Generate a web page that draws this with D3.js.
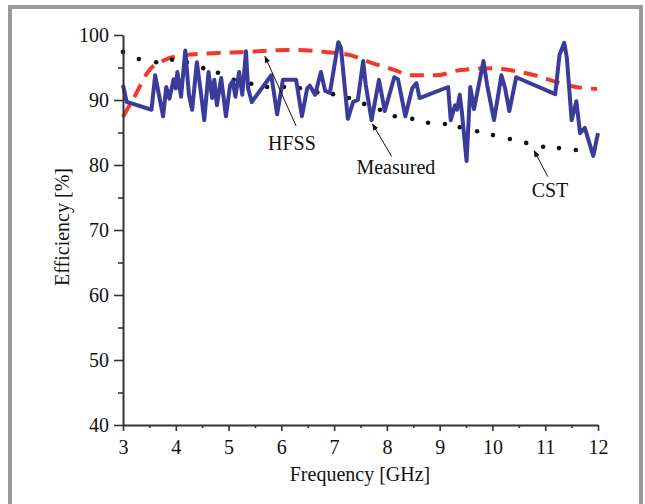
<!DOCTYPE html>
<html>
<head>
<meta charset="utf-8">
<script src="https://cdn.jsdelivr.net/npm/d3@7"></script>
<style>
  body { margin: 0; background: #fff; }
  svg { display: block; }
  text { font-family: "Liberation Serif", "Times New Roman", serif; fill: #111; }
</style>
</head>
<body>
<svg id="chart" width="645" height="504"></svg>
<script>
// Measured efficiency: frequency [GHz], efficiency [%]
var measFreq = [3.00, 3.07, 3.54, 3.61, 3.76, 3.82, 3.88, 3.96, 4.00, 4.03, 4.10, 4.18, 4.25, 4.31, 4.40, 4.47,
  4.54, 4.62, 4.69, 4.73, 4.78, 4.86, 4.95, 5.03, 5.08, 5.13, 5.20, 5.26, 5.33, 5.37, 5.44, 5.81,
  5.92, 6.03, 6.28, 6.39, 6.49, 6.54, 6.64, 6.75, 6.83, 6.92, 7.08, 7.13, 7.26, 7.36, 7.45, 7.55,
  7.60, 7.71, 7.85, 7.96, 8.14, 8.21, 8.35, 8.48, 8.56, 8.62, 9.16, 9.21, 9.29, 9.33, 9.38, 9.42,
  9.51, 9.58, 9.65, 9.83, 9.90, 10.03, 10.17, 10.24, 10.32, 10.45, 11.19, 11.27, 11.36, 11.41,
  11.50, 11.59, 11.66, 11.75, 11.91, 12.00];
var measEff = [92.3, 89.7, 88.5, 93.8, 87.5, 92.0, 90.2, 93.2, 91.8, 94.3, 90.5, 97.6, 90.8, 88.5, 95.8, 91.5,
  86.9, 94.3, 90.3, 93.1, 89.2, 93.4, 87.5, 92.3, 92.9, 90.5, 94.3, 90.8, 97.5, 91.8, 89.7, 93.8,
  87.8, 93.1, 93.1, 87.5, 91.8, 92.2, 90.8, 94.3, 91.4, 91.1, 98.9, 98.0, 87.1, 89.7, 90.0, 96.0,
  92.3, 86.9, 93.1, 88.3, 93.5, 93.2, 87.5, 91.8, 92.6, 90.3, 92.0, 86.9, 89.2, 88.5, 90.8, 88.2,
  80.6, 92.0, 88.6, 96.0, 92.3, 86.9, 93.8, 91.8, 88.3, 93.5, 90.9, 96.9, 98.8, 96.5,
  86.9, 89.8, 84.9, 85.7, 81.4, 84.9];

// HFSS simulation
var hfssFreq = [3.00, 3.25, 3.47, 3.80, 4.17, 4.72, 5.35, 6.13, 6.83, 7.30, 7.68, 8.15, 8.45, 8.93, 9.40, 10.03, 10.40, 10.80, 11.20, 11.58, 11.98];
var hfssEff = [87.4, 91.0, 94.3, 96.2, 96.9, 97.2, 97.4, 97.7, 97.4, 96.9, 95.8, 94.6, 93.8, 93.8, 94.6, 94.9, 94.5, 93.8, 92.8, 92.0, 91.7];

// CST simulation
var cstFreq = [3.00, 3.30, 3.63, 3.93, 4.21, 4.52, 4.80, 5.10, 5.43, 5.73, 6.05, 6.35, 6.68, 6.98, 7.28, 7.57,
  7.87, 8.15, 8.48, 8.78, 9.10, 9.38, 9.71, 10.01, 10.33, 10.64, 10.96, 11.26, 11.58];
var cstEff = [97.4, 96.3, 95.8, 96.2, 95.8, 94.9, 94.2, 93.1, 92.5, 92.0, 92.0, 91.8, 91.2, 90.9, 90.3, 89.4,
  88.5, 87.5, 87.1, 86.5, 86.3, 85.8, 85.2, 84.6, 84.0, 83.4, 82.8, 82.6, 82.3];

var xTicks = [3, 4, 5, 6, 7, 8, 9, 10, 11, 12];
var yTicks = [40, 50, 60, 70, 80, 90, 100];

// Annotations: label, text position, arrow tail, arrow tip (data units)
var notes = [
  { label: "HFSS", tx: 6.20, ty: 82.3, x1: 6.28, y1: 86.0, x2: 5.69, y2: 96.7 },
  { label: "Measured", tx: 8.17, ty: 78.6, x1: 8.09, y1: 81.3, x2: 7.73, y2: 86.3 },
  { label: "CST", tx: 11.09, ty: 75.1, x1: 11.05, y1: 78.2, x2: 10.79, y2: 82.2 }
];

var svg = d3.select("#chart");

// outer gray frame
svg.append("rect")
  .attr("x", 10).attr("y", 7)
  .attr("width", 631).attr("height", 530)
  .attr("fill", "none")
  .attr("stroke", "#9a9a9a")
  .attr("stroke-width", 4);

var x = d3.scaleLinear().domain([3, 12]).range([123, 598]);
var y = d3.scaleLinear().domain([40, 100]).range([425, 35]);

var defs = svg.append("defs");
defs.append("marker")
  .attr("id", "arrow")
  .attr("viewBox", "0 0 10 10")
  .attr("refX", 9).attr("refY", 5)
  .attr("markerWidth", 7).attr("markerHeight", 7)
  .attr("markerUnits", "userSpaceOnUse")
  .attr("orient", "auto")
  .append("path")
  .attr("d", "M0,1 L10,5 L0,9 Z")
  .attr("fill", "#111");

// HFSS dashed
svg.append("path")
  .datum(hfssFreq.map(function (f, i) { return [f, hfssEff[i]]; }))
  .attr("fill", "none")
  .attr("stroke", "#f0392b")
  .attr("stroke-width", 4)
  .attr("stroke-dasharray", "14,9")
  .attr("d", d3.line().x(function (d) { return x(d[0]); }).y(function (d) { return y(d[1]); }).curve(d3.curveMonotoneX));

// CST dots
svg.append("g")
  .selectAll("circle")
  .data(cstFreq)
  .enter()
  .append("circle")
  .attr("cx", function (d) { return x(d); })
  .attr("cy", function (d, i) { return y(cstEff[i]); })
  .attr("r", 2.3)
  .attr("fill", "#111");

// Measured
svg.append("path")
  .datum(measFreq.map(function (f, i) { return [f, measEff[i]]; }))
  .attr("fill", "none")
  .attr("stroke", "#3b3b9b")
  .attr("stroke-width", 4)
  .attr("stroke-linejoin", "round")
  .attr("d", d3.line().x(function (d) { return x(d[0]); }).y(function (d) { return y(d[1]); }));

// axes
svg.append("g")
  .attr("transform", "translate(123,0)")
  .call(d3.axisLeft(y).tickValues(yTicks).tickSize(9).tickSizeOuter(0).tickPadding(5));
svg.append("g")
  .attr("transform", "translate(123,0)")
  .call(d3.axisLeft(y).tickValues(d3.range(45, 100, 10)).tickSize(5).tickFormat("").tickSizeOuter(0))
  .select(".domain").remove();

svg.append("g")
  .attr("transform", "translate(0,425)")
  .call(d3.axisBottom(x).tickValues(xTicks).tickSize(6).tickSizeOuter(0).tickPadding(9));
svg.append("g")
  .attr("transform", "translate(0,425)")
  .call(d3.axisBottom(x).tickValues(d3.range(3.5, 12, 1)).tickSize(3).tickFormat("").tickSizeOuter(0))
  .select(".domain").remove();

svg.selectAll(".domain").attr("stroke", "#333").attr("stroke-width", 2);
svg.selectAll(".tick line").attr("stroke", "#333").attr("stroke-width", 1.6);
svg.selectAll(".tick text")
  .style("font-family", "'Liberation Serif', serif")
  .style("font-size", "20px")
  .attr("fill", "#111");

// axis titles
svg.append("text")
  .attr("x", 360).attr("y", 481)
  .attr("text-anchor", "middle")
  .style("font-size", "20px")
  .text("Frequency [GHz]");

svg.append("text")
  .attr("transform", "translate(69,227) rotate(-90)")
  .attr("text-anchor", "middle")
  .style("font-size", "20px")
  .text("Efficiency [%]");

// annotations
var ann = svg.append("g");
ann.selectAll("line")
  .data(notes)
  .enter()
  .append("line")
  .attr("x1", function (d) { return x(d.x1); })
  .attr("y1", function (d) { return y(d.y1); })
  .attr("x2", function (d) { return x(d.x2); })
  .attr("y2", function (d) { return y(d.y2); })
  .attr("stroke", "#111")
  .attr("stroke-width", 1)
  .attr("marker-end", "url(#arrow)");

ann.selectAll("text")
  .data(notes)
  .enter()
  .append("text")
  .attr("x", function (d) { return x(d.tx); })
  .attr("y", function (d) { return y(d.ty); })
  .attr("text-anchor", "middle")
  .style("font-size", "20px")
  .text(function (d) { return d.label; });
</script>
</body>
</html>
